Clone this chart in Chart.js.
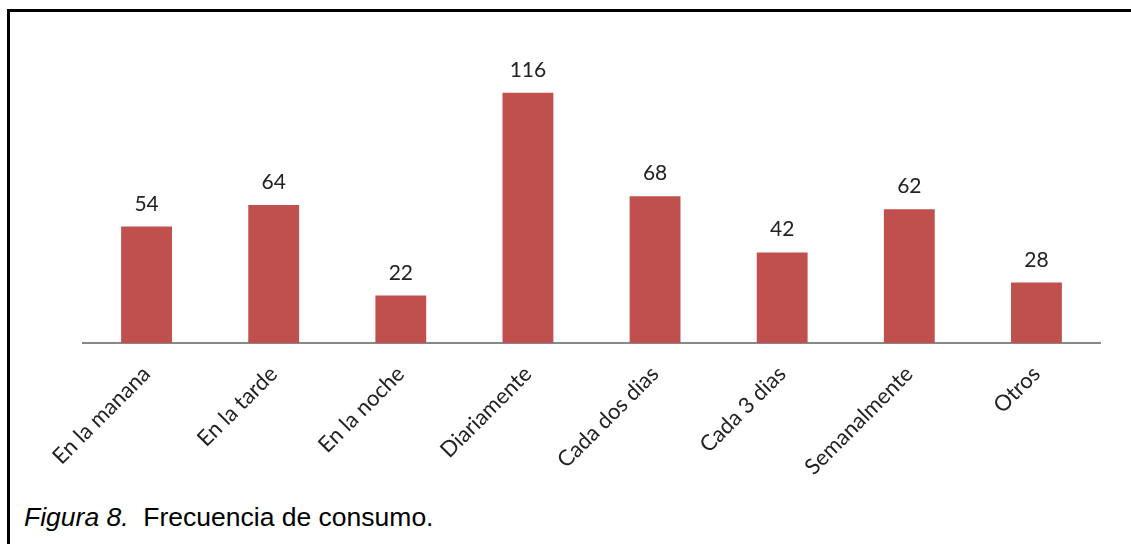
<!DOCTYPE html>
<html>
<head>
<meta charset="utf-8">
<script src="https://cdn.jsdelivr.net/npm/chart.js@4/dist/chart.umd.min.js"></script>
<style>
  html, body { margin: 0; padding: 0; background: #fff; }
  body { width: 1131px; height: 544px; position: relative; overflow: hidden; }
  #frame { position: absolute; left: 7px; top: 9px; width: 1124px; height: 535px;
           border-left: 3px solid #000; border-top: 3px solid #000; box-sizing: border-box; }
  #wrap { position: absolute; left: 0; top: 0; width: 1131px; height: 500px; }
  #caption { position: absolute; left: 24px; top: 502px; font-family: "Liberation Sans", Arial, sans-serif;
             font-size: 26.5px; line-height: 30px; color: #000; white-space: pre; }
</style>
</head>
<body>
<div id="frame"></div>
<div id="wrap"><canvas id="c"></canvas></div>
<div id="caption"><i>Figura 8.</i>  Frecuencia de consumo.</div>
<script>
const categories = ["En la manana", "En la tarde", "En la noche", "Diariamente",
                    "Cada dos dias", "Cada 3 dias", "Semanalmente", "Otros"];
const counts = [54, 64, 22, 116, 68, 42, 62, 28];

const labelFont = 'Lato, "Open Sans", sans-serif';

// Value labels drawn above each bar
const barValueLabels = {
  id: 'barValueLabels',
  afterDatasetsDraw(chart) {
    const ctx = chart.ctx;
    const meta = chart.getDatasetMeta(0);
    ctx.save();
    ctx.font = '21px ' + labelFont;
    ctx.fillStyle = '#222';
    ctx.textAlign = 'center';
    ctx.textBaseline = 'alphabetic';
    meta.data.forEach((bar, i) => {
      ctx.fillText(String(counts[i]), bar.x, bar.y - 16);
    });
    ctx.restore();
  }
};

new Chart(document.getElementById('c'), {
  type: 'bar',
  data: {
    labels: categories,
    datasets: [{
      data: counts,
      backgroundColor: '#C0504D',
      borderWidth: 0,
      barPercentage: 0.4,
      categoryPercentage: 1.0
    }]
  },
  options: {
    responsive: true,
    maintainAspectRatio: false,
    animation: false,
    layout: { padding: { left: 83, right: 31, top: 41, bottom: 0 } },
    plugins: { legend: { display: false }, tooltip: { enabled: false } },
    scales: {
      y: {
        display: false,
        min: 0,
        max: 140
      },
      x: {
        grid: { display: false, drawTicks: false },
        border: { display: true, color: '#888', width: 2 },
        ticks: {
          maxRotation: 45,
          minRotation: 45,
          padding: 18,
          color: '#222',
          font: { family: labelFont, size: 22 }
        },
        afterFit(scale) { scale.height = 500 - 41 - 302; }
      }
    }
  },
  plugins: [barValueLabels]
});
</script>
</body>
</html>
